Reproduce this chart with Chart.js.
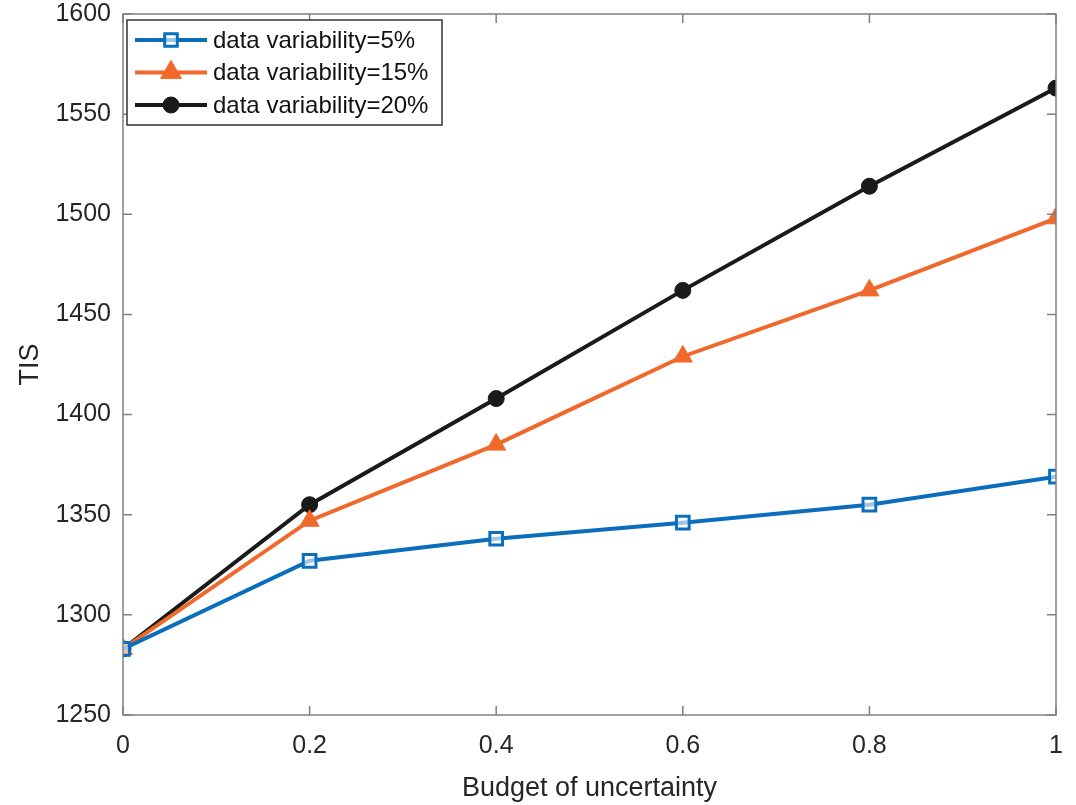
<!DOCTYPE html>
<html lang="en">
<head>
    <meta charset="UTF-8">
    <title>TIS vs Budget of uncertainty</title>
    <style>
        body { margin: 0; background: #fff; }
        .chartContainer { position: relative; width: 1076px; height: 805px; }
    </style>
</head>
<body>
    <div class="chartContainer">
        <canvas id="chartCanvas" width="1076" height="805"></canvas>
    </div>
    <script src="https://cdn.jsdelivr.net/npm/chart.js"></script>
    <script>
        // data
        const budget = [0, 0.2, 0.4, 0.6, 0.8, 1];
        const tis5 = [1283, 1327, 1338, 1346, 1355, 1369];
        const tis15 = [1283, 1347, 1385, 1429, 1462, 1498];
        const tis20 = [1283, 1355, 1408, 1462, 1514, 1563];
        const seriesLabels = ["data variability=5%", "data variability=15%", "data variability=20%"];

        const axisGray = "#808080";
        const textColor = "#262626";
        const fontFamily = "'Liberation Sans', Arial, sans-serif";

        function toPoints(ys) {
            return budget.map((x, i) => ({ x: x, y: ys[i] }));
        }

        // inward ticks on all four sides + top/right box lines, MATLAB style
        const boxPlugin = {
            id: "box",
            afterDraw(chart) {
                const ctx = chart.ctx;
                const a = chart.chartArea;
                const xs = chart.scales.x, ys = chart.scales.y;
                const len = 9;
                ctx.save();
                ctx.strokeStyle = axisGray;
                ctx.lineWidth = 1.5;
                ctx.strokeRect(a.left, a.top, a.right - a.left, a.bottom - a.top);
                ctx.beginPath();
                xs.ticks.forEach(t => {
                    const px = xs.getPixelForValue(t.value);
                    ctx.moveTo(px, a.bottom); ctx.lineTo(px, a.bottom - len);
                    ctx.moveTo(px, a.top); ctx.lineTo(px, a.top + len);
                });
                ys.ticks.forEach(t => {
                    const py = ys.getPixelForValue(t.value);
                    ctx.moveTo(a.left, py); ctx.lineTo(a.left + len, py);
                    ctx.moveTo(a.right, py); ctx.lineTo(a.right - len, py);
                });
                ctx.stroke();
                ctx.restore();
            }
        };

        // legend box drawn inside the plot, top left
        const insideLegend = {
            id: "insideLegend",
            afterDraw(chart) {
                const ctx = chart.ctx;
                const a = chart.chartArea;
                const x0 = a.left + 4, y0 = a.top + 6;
                const w = 315, h = 105, rowH = 32.5;
                ctx.save();
                ctx.fillStyle = "#fff";
                ctx.fillRect(x0, y0, w, h);
                ctx.strokeStyle = "#333";
                ctx.lineWidth = 1.5;
                ctx.strokeRect(x0, y0, w, h);
                ctx.font = "24px " + fontFamily;
                ctx.textBaseline = "middle";
                chart.data.datasets.forEach((ds, i) => {
                    const cy = y0 + 20 + i * rowH;
                    const mx = x0 + 44;
                    ctx.strokeStyle = ds.borderColor;
                    ctx.lineWidth = 4;
                    ctx.beginPath();
                    ctx.moveTo(x0 + 8, cy);
                    ctx.lineTo(x0 + 80, cy);
                    ctx.stroke();
                    ctx.fillStyle = ds.pointBackgroundColor;
                    ctx.lineWidth = ds.pointBorderWidth;
                    ctx.beginPath();
                    const r = ds.pointRadius;
                    if (ds.pointStyle === "rect") {
                        ctx.rect(mx - r * 0.7, cy - r * 0.7, r * 1.4, r * 1.4);
                    } else if (ds.pointStyle === "triangle") {
                        ctx.moveTo(mx, cy - r * 1.1);
                        ctx.lineTo(mx + r * 0.95, cy + r * 0.55);
                        ctx.lineTo(mx - r * 0.95, cy + r * 0.55);
                        ctx.closePath();
                    } else {
                        ctx.arc(mx, cy, r, 0, Math.PI * 2);
                    }
                    ctx.fill();
                    ctx.stroke();
                    ctx.fillStyle = "#111";
                    ctx.fillText(ds.label, x0 + 86, cy + 1);
                });
                ctx.restore();
            }
        };

        const ctx = document.getElementById("chartCanvas").getContext("2d");
        new Chart(ctx, {
            type: "line",
            data: {
                datasets: [
                    {
                        label: seriesLabels[0],
                        data: toPoints(tis5),
                        borderColor: "#0A6EBD",
                        backgroundColor: "#0A6EBD",
                        pointBackgroundColor: "rgba(255,255,255,0.6)",
                        pointStyle: "rect",
                        pointRadius: 9,
                        pointBorderWidth: 3,
                        borderWidth: 4
                    },
                    {
                        label: seriesLabels[1],
                        data: toPoints(tis15),
                        borderColor: "#F0692B",
                        backgroundColor: "#F0692B",
                        pointBackgroundColor: "#F0692B",
                        pointStyle: "triangle",
                        pointRadius: 11,
                        pointBorderWidth: 1,
                        borderWidth: 4
                    },
                    {
                        label: seriesLabels[2],
                        data: toPoints(tis20),
                        borderColor: "#1A1A1A",
                        backgroundColor: "#1A1A1A",
                        pointBackgroundColor: "#1A1A1A",
                        pointStyle: "circle",
                        pointRadius: 8,
                        pointBorderWidth: 1,
                        borderWidth: 4
                    }
                ]
            },
            options: {
                responsive: false,
                animation: false,
                layout: { padding: { left: 0, right: 20, top: 14, bottom: 0 } },
                plugins: {
                    legend: { display: false },
                    tooltip: { enabled: false }
                },
                scales: {
                    x: {
                        type: "linear",
                        min: 0,
                        max: 1,
                        afterFit(scale) {
                            scale.height = 90;
                            scale.paddingLeft = 0;
                            scale.paddingRight = 0;
                        },
                        afterBuildTicks(scale) {
                            scale.ticks = budget.map(v => ({ value: v }));
                        },
                        grid: { drawOnChartArea: false, drawTicks: false },
                        border: { display: false },
                        ticks: {
                            padding: 16,
                            color: textColor,
                            font: { size: 25, family: fontFamily },
                            callback: v => String(Math.round(v * 10) / 10)
                        },
                        title: {
                            display: true,
                            text: "Budget of uncertainty",
                            color: textColor,
                            font: { size: 27, family: fontFamily },
                            padding: { top: 4, bottom: 0 }
                        }
                    },
                    y: {
                        min: 1250,
                        max: 1600,
                        afterFit(scale) {
                            scale.width = 123;
                            scale.paddingTop = 0;
                            scale.paddingBottom = 0;
                        },
                        grid: { drawOnChartArea: false, drawTicks: false },
                        border: { display: false },
                        ticks: {
                            stepSize: 50,
                            padding: 12,
                            color: textColor,
                            font: { size: 25, family: fontFamily },
                            callback: v => String(v)
                        },
                        title: {
                            display: true,
                            text: "TIS",
                            color: textColor,
                            font: { size: 27, family: fontFamily },
                            padding: { top: 14, bottom: 0 }
                        }
                    }
                }
            },
            plugins: [boxPlugin, insideLegend]
        });
    </script>
</body>
</html>
